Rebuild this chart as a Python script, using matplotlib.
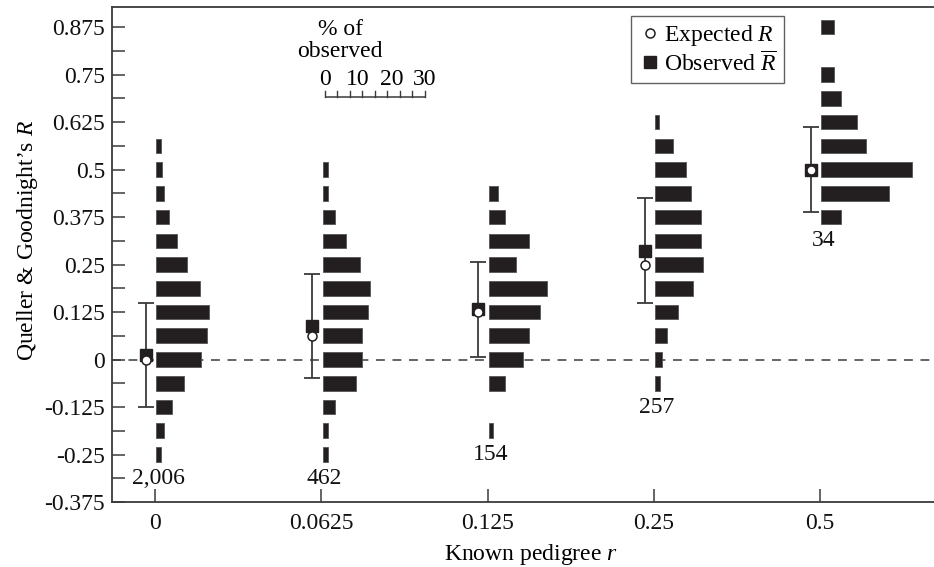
import numpy as np
import matplotlib.pyplot as plt
from matplotlib.lines import Line2D

plt.rcParams['font.family'] = ['Liberation Serif', 'DejaVu Serif']
plt.rcParams['mathtext.fontset'] = 'custom'
plt.rcParams['mathtext.rm'] = 'Liberation Serif'
plt.rcParams['mathtext.it'] = 'Liberation Serif:italic'

# ---- data ----
categories = ['0', '0.0625', '0.125', '0.25', '0.5']
expected_r = [0.0, 0.0625, 0.125, 0.25, 0.5]
observed_r = [0.012, 0.088, 0.132, 0.287, 0.5]
sd_r = [0.137, 0.137, 0.124, 0.138, 0.111]
n_obs = ['2,006', '462', '154', '257', '34']

# histograms: bin centres of R and % of observed in each bin
bins_0 = [0.5625, 0.5, 0.4375, 0.375, 0.3125, 0.25, 0.1875, 0.125, 0.0625, 0.0, -0.0625, -0.125, -0.1875, -0.25]
pct_0 = [1.5, 1.8, 2.2, 3.7, 6.2, 9.2, 13.0, 15.9, 15.2, 13.3, 8.4, 4.8, 2.2, 1.5]
bins_1 = [0.5, 0.4375, 0.375, 0.3125, 0.25, 0.1875, 0.125, 0.0625, 0.0, -0.0625, -0.125, -0.1875, -0.25]
pct_1 = [1.6, 1.7, 3.7, 7.0, 11.2, 14.2, 13.8, 12.0, 12.0, 9.9, 3.7, 1.7, 1.7]
bins_2 = [0.4375, 0.375, 0.3125, 0.25, 0.1875, 0.125, 0.0625, 0.0, -0.0625, -0.1875]
pct_2 = [2.8, 5.0, 12.0, 8.3, 17.4, 15.4, 12.1, 10.2, 5.0, 1.3]
bins_3 = [0.625, 0.5625, 0.5, 0.4375, 0.375, 0.3125, 0.25, 0.1875, 0.125, 0.0625, 0.0, -0.0625]
pct_3 = [1.3, 5.5, 9.2, 10.8, 13.8, 13.8, 14.4, 11.5, 7.0, 3.5, 2.0, 1.5]
bins_4 = [0.875, 0.75, 0.6875, 0.625, 0.5625, 0.5, 0.4375, 0.375]
pct_4 = [3.7, 3.7, 5.9, 10.8, 13.3, 27.3, 20.3, 5.9]

all_bins = [bins_0, bins_1, bins_2, bins_3, bins_4]
all_pct = [pct_0, pct_1, pct_2, pct_3, pct_4]

y_ticks = [-0.375, -0.25, -0.125, 0, 0.125, 0.25, 0.375, 0.5, 0.625, 0.75, 0.875]
y_labels = ['-0.375', '-0.25', '-0.125', '0', '0.125', '0.25', '0.375', '0.5', '0.625', '0.75', '0.875']
ruler_ticks = [0, 10, 20, 30]

# ---- layout ----
pct_scale = 0.02      # x units per % of observed
bar_h = 0.0385
mark_dx = -0.055
bar_dx = 0.008
ink = '#231f20'
axc = '#3a3a3a'
fs = 17

fig = plt.figure(figsize=(9.34, 5.67), dpi=100)
ax = fig.add_axes([0.1199, 0.1146, 0.8801, 0.8731])
ax.set_xlim(-0.259, 4.686)
ax.set_ylim(-0.375, 0.928)

x = np.arange(len(categories))

ax.axhline(0, color=axc, lw=1.1, dashes=(5.8, 5.0), zorder=1)

for i in range(len(categories)):
    widths = np.array(all_pct[i]) * pct_scale
    ax.barh(all_bins[i], widths, left=x[i] + bar_dx, height=bar_h,
            color=ink, edgecolor='#555555', linewidth=0.6, zorder=3)
    ax.text(x[i] + 0.02, min(all_bins[i]) - 0.0625, n_obs[i], ha='center', va='center',
            fontsize=fs, color='#111111')

ax.errorbar(x + mark_dx, observed_r, yerr=sd_r, fmt='none', ecolor=axc, elinewidth=1.3,
            capsize=5.5, capthick=1.3, zorder=4)
ax.plot(x + mark_dx, observed_r, 's', color=ink, ms=8.5, zorder=5, ls='none')
ax.plot(x + mark_dx, expected_r, 'o', mfc='white', mec=ink, mew=1.1, ms=6.5, zorder=6, ls='none')

# scale ruler for bar length
r0 = 1.022
ry = 0.690
ax.plot([r0, r0 + 30 * pct_scale], [ry, ry], color=axc, lw=1.1, solid_capstyle='butt')
for t in np.arange(0, 31, 3.75):
    ax.plot([r0 + t * pct_scale] * 2, [ry, ry + 0.018], color=axc, lw=1.0)
for t in ruler_ticks:
    ax.text(r0 + t * pct_scale, 0.738, str(t), ha='center', va='center', fontsize=fs)
ax.text(1.113, 0.840, '% of\nobserved', ha='center', va='center', fontsize=fs, linespacing=1.1)

# legend
handles = [Line2D([], [], marker='o', ls='none', mfc='white', mec=ink, mew=1.1, ms=6.5),
           Line2D([], [], marker='s', ls='none', color=ink, ms=8.5)]
leg = ax.legend(handles, ['Expected $R$', r'Observed $\overline{R}$'], loc='upper right',
                bbox_to_anchor=(0.8175, 0.982), fontsize=fs, frameon=True, fancybox=False,
                handletextpad=0.1, handlelength=1.0, borderpad=0.3, labelspacing=0.12,
                borderaxespad=0)
leg.get_frame().set_edgecolor(axc)
leg.get_frame().set_linewidth(1.0)

# axes styling
ax.set_xticks(x)
ax.set_xticklabels(categories)
ax.set_yticks(y_ticks)
ax.set_yticklabels(y_labels)
ax.set_yticks(np.arange(-0.3125, 0.93, 0.125), minor=True)
ax.tick_params(axis='both', which='both', direction='in', length=9.5, width=1.1, color=axc,
               labelsize=fs, labelcolor='#111111')
ax.tick_params(axis='y', pad=5)
ax.tick_params(axis='x', pad=8)
ax.spines['right'].set_visible(False)
for s in ['left', 'top', 'bottom']:
    ax.spines[s].set_color(axc)
    ax.spines[s].set_linewidth(1.3)

ax.set_xlabel('Known pedigree $r$', fontsize=fs)
ax.set_ylabel("Queller & Goodnight\u2019s $R$", fontsize=fs)
ax.xaxis.set_label_coords(0.51, -0.080)
ax.yaxis.set_label_coords(-0.088, 0.529)

fig.savefig('out.png', dpi=100)
